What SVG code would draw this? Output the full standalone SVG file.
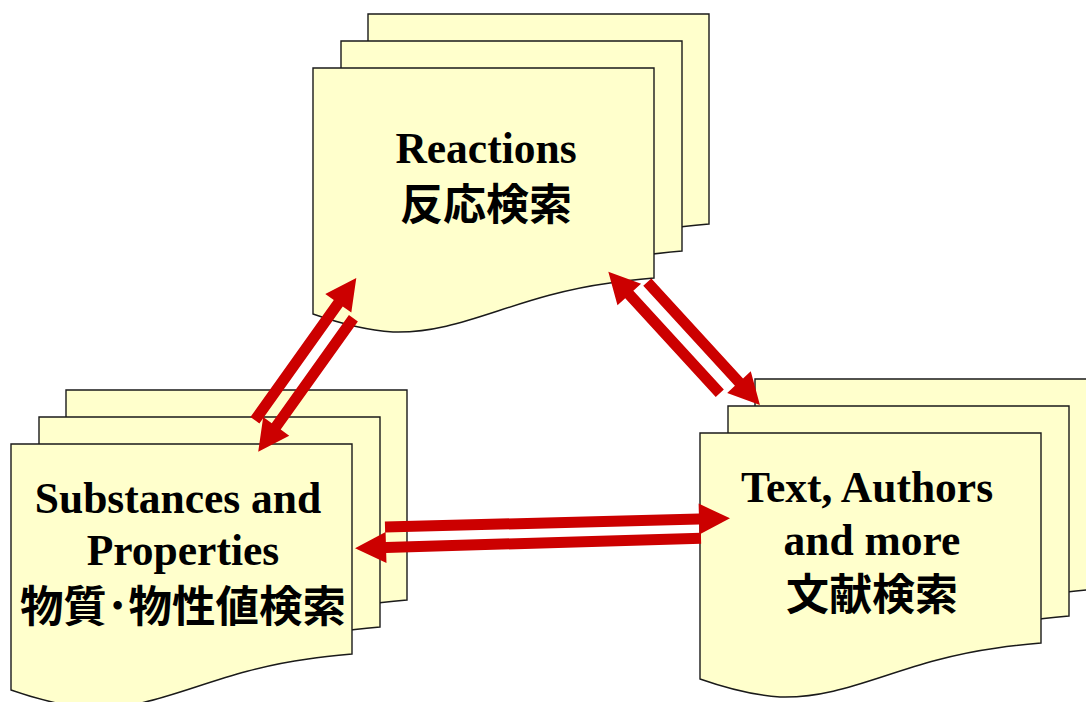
<svg xmlns="http://www.w3.org/2000/svg" xmlns:xlink="http://www.w3.org/1999/xlink" width="1086" height="702" viewBox="0 0 1086 702">
  <style>
    .page { fill: #FFFFCC; stroke: #1a1a1a; stroke-width: 1.4; stroke-linejoin: miter; }
    .en { font-family: "Liberation Serif", "Times New Roman", serif; font-weight: bold; font-size: 43.5px; fill: #000; text-anchor: middle; }
    .ja { font-family: "Noto Sans CJK JP", "Noto Sans CJK SC", sans-serif; font-weight: 700; font-size: 43px; fill: #000; text-anchor: middle; }
    .arrow { fill: #CC0000; stroke: none; }
  </style>
  <defs>
    <path id="doc" class="page" d="M0,0 H341 V210 L341,210 C330,211 310,213 297,215 C200,228 150,266 80,264 C50,262 20,253 0,246 Z"/>
    <g id="stack">
      <use xlink:href="#doc" href="#doc" transform="translate(55,-54)"/>
      <use xlink:href="#doc" href="#doc" transform="translate(28,-27)"/>
      <use xlink:href="#doc" href="#doc"/>
    </g>
  </defs>
  <rect width="1086" height="702" fill="#ffffff"/>

  <g id="node-reactions">
    <use xlink:href="#stack" href="#stack" transform="translate(313,68)"/>
    <text class="en" x="486" y="163">Reactions</text>
    <text class="ja" x="486" y="220">反応検索</text>
  </g>

  <g id="node-substances">
    <use xlink:href="#stack" href="#stack" transform="translate(11,444)"/>
    <text class="en" x="178" y="513">Substances and</text>
    <text class="en" x="183" y="565">Properties</text>
    <text class="ja" x="183" y="622" style="font-size:43.5px">物質･物性値検索</text>
  </g>

  <g id="node-text">
    <use xlink:href="#stack" href="#stack" transform="translate(700,433)"/>
    <text class="en" x="867" y="502">Text, Authors</text>
    <text class="en" x="872" y="555">and more</text>
    <text class="ja" x="872" y="610">文献検索</text>
  </g>

  <g id="connectors">
    <!-- Substances -> Reactions -->
    <polygon class="arrow" transform="translate(254.9,420.2) rotate(-54.5)" points="0,-5.5 143.6,-5.5 143.6,-16 174.6,0 143.6,16 143.6,5.5 0,5.5"/>
    <!-- Reactions -> Substances -->
    <polygon class="arrow" transform="translate(353.4,318.2) rotate(125.5)" points="0,-5.5 132.9,-5.5 132.9,-16 163.9,0 132.9,16 132.9,5.5 0,5.5"/>
    <!-- Text -> Reactions -->
    <polygon class="arrow" transform="translate(719.8,393.3) rotate(-132.5)" points="0,-5.5 134,-5.5 134,-16 165,0 134,16 134,5.5 0,5.5"/>
    <!-- Reactions -> Text -->
    <polygon class="arrow" transform="translate(647.3,282.1) rotate(47.5)" points="0,-5.5 135.7,-5.5 135.7,-16 166.7,0 135.7,16 135.7,5.5 0,5.5"/>
    <!-- Substances -> Text -->
    <polygon class="arrow" transform="translate(385,527) rotate(-1.44)" points="0,-5.5 314.1,-5.5 314.1,-15.5 345.1,0 314.1,15.5 314.1,5.5 0,5.5"/>
    <!-- Text -> Substances -->
    <polygon class="arrow" transform="translate(701,538.3) rotate(178.34)" points="0,-5.5 315.1,-5.5 315.1,-15.5 346.1,0 315.1,15.5 315.1,5.5 0,5.5"/>
  </g>
</svg>
